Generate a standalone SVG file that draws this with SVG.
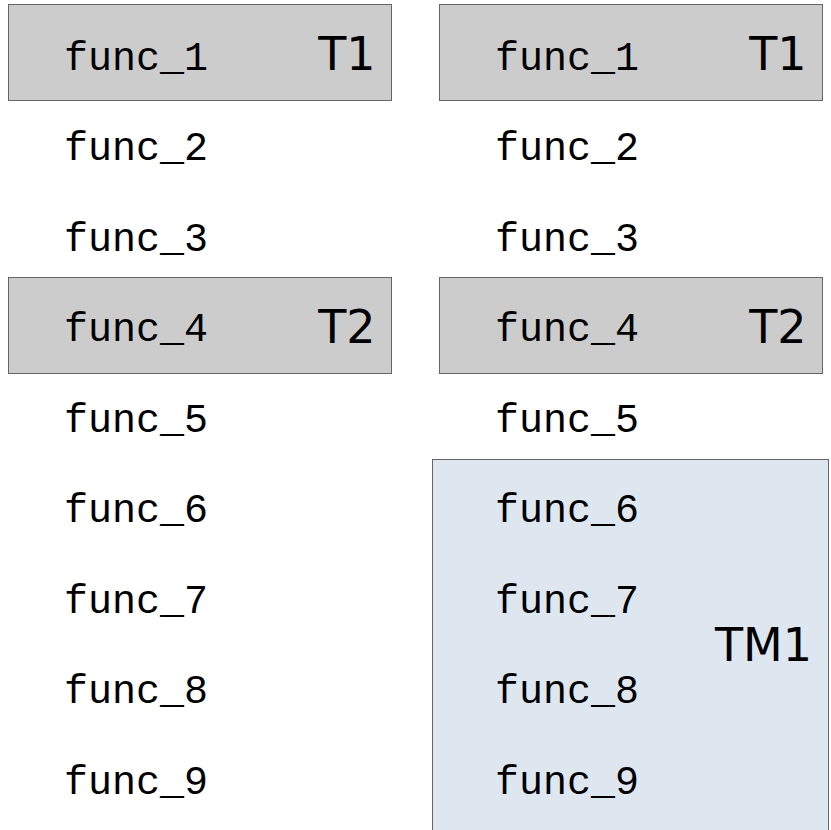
<svg xmlns="http://www.w3.org/2000/svg" width="831" height="830" viewBox="0 0 831 830">
<style>
.bg{fill:#ffffff}
.t{fill:#cccccc;stroke:#666666;stroke-width:1}
.tm{fill:#dee6ef;stroke:#666666;stroke-width:1}
.f{font-family:"Liberation Mono",monospace;font-size:40px;fill:#000}
.l{font-family:"DejaVu Sans",sans-serif;font-size:46px;fill:#000;text-anchor:end}
</style>
<rect class="bg" x="0" y="0" width="831" height="830"/>
<g id="left_T1"><rect class="t" x="8.5" y="4.5" width="383" height="96"/><text class="l" x="375.5" y="69.5">T1</text></g>
<g id="left_T2"><rect class="t" x="8.5" y="277.5" width="383" height="96"/><text class="l" x="375.5" y="342.5">T2</text></g>
<g id="right_T1"><rect class="t" x="439.5" y="4.5" width="383" height="96"/><text class="l" x="806.5" y="69.5">T1</text></g>
<g id="right_T2"><rect class="t" x="439.5" y="277.5" width="383" height="96"/><text class="l" x="806.5" y="342.5">T2</text></g>
<g id="right_TM1"><rect class="tm" x="432.5" y="459.5" width="396" height="380"/><text class="l" x="812" y="661">TM1</text></g>
<g id="left_funcs">
<text class="f" x="64" y="70">func_1</text>
<text class="f" x="64" y="160">func_2</text>
<text class="f" x="64" y="250.5">func_3</text>
<text class="f" x="64" y="341">func_4</text>
<text class="f" x="64" y="431.5">func_5</text>
<text class="f" x="64" y="522">func_6</text>
<text class="f" x="64" y="612.5">func_7</text>
<text class="f" x="64" y="703">func_8</text>
<text class="f" x="64" y="793.5">func_9</text>
</g>
<g id="right_funcs">
<text class="f" x="495" y="70">func_1</text>
<text class="f" x="495" y="160">func_2</text>
<text class="f" x="495" y="250.5">func_3</text>
<text class="f" x="495" y="341">func_4</text>
<text class="f" x="495" y="431.5">func_5</text>
<text class="f" x="495" y="522">func_6</text>
<text class="f" x="495" y="612.5">func_7</text>
<text class="f" x="495" y="703">func_8</text>
<text class="f" x="495" y="793.5">func_9</text>
</g>
<g id="connectors"></g>
</svg>
